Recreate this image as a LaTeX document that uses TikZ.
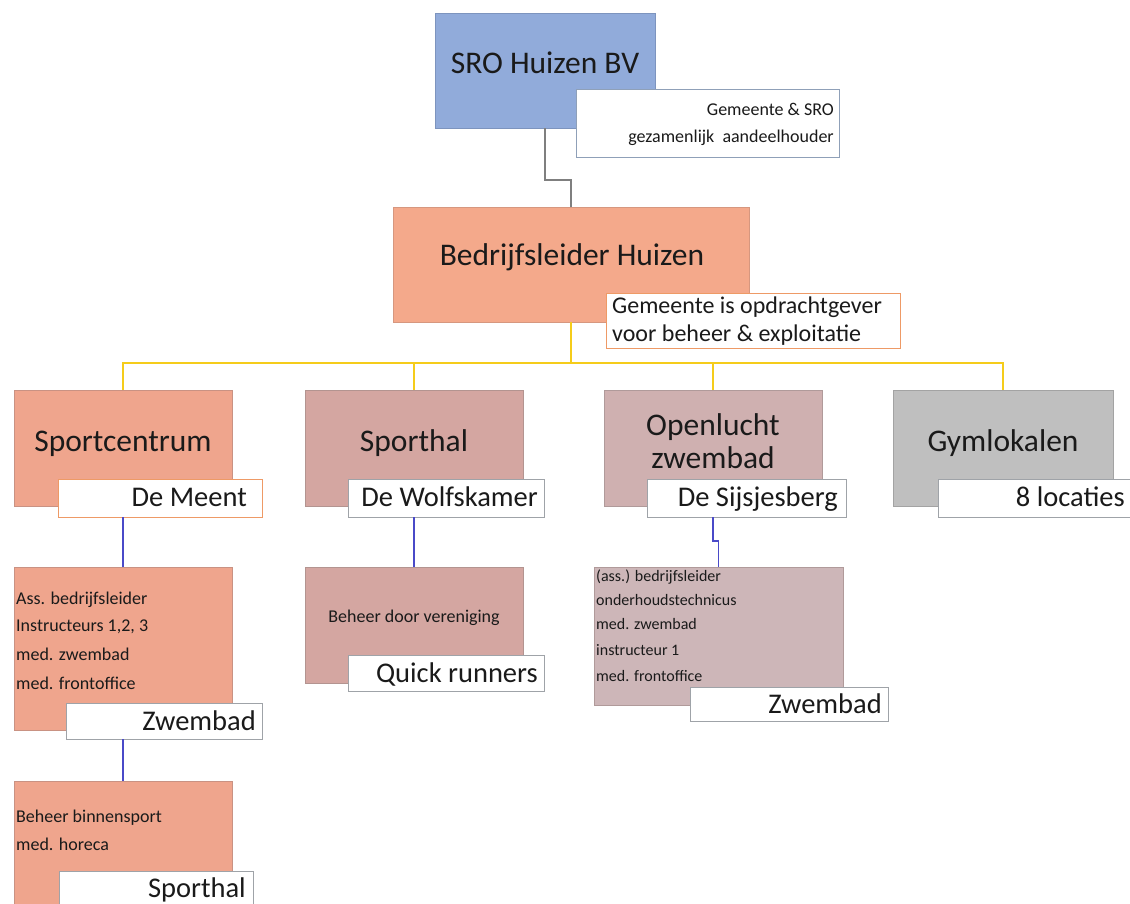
\documentclass[tikz,border=0pt]{standalone}
\usepackage{fontspec}
\setmainfont{Carlito}
\definecolor{sroblue}{HTML}{91ABDA}
\definecolor{sroedge}{HTML}{7D94BE}
\definecolor{blfill}{HTML}{F4A98B}
\definecolor{bledge}{HTML}{D6977F}
\definecolor{scfill}{HTML}{EFA58D}
\definecolor{scedge}{HTML}{C99283}
\definecolor{shfill}{HTML}{D4A6A1}
\definecolor{shedge}{HTML}{B39490}
\definecolor{owfill}{HTML}{CFB0B0}
\definecolor{owedge}{HTML}{B09A9A}
\definecolor{ow2fill}{HTML}{CDB6B8}
\definecolor{gyfill}{HTML}{BFBFBF}
\definecolor{gyedge}{HTML}{A3A3A3}
\definecolor{lblgray}{HTML}{9FA3A8}
\definecolor{lblorange}{HTML}{EE9A66}
\definecolor{lblblue}{HTML}{8FA0B8}
\definecolor{conngray}{HTML}{7F7F7F}
\definecolor{connyellow}{HTML}{F5CC1A}
\definecolor{connblue}{HTML}{4A4AC8}
\definecolor{txtcol}{HTML}{1A1A1A}
\begin{document}
\begin{tikzpicture}[x=1pt,y=-1pt,
  box/.style={anchor=north west, inner sep=0pt, outer sep=0pt, line width=0.8pt},
  lbl/.style={anchor=north west, inner sep=0pt, outer sep=0pt, fill=white, draw=lblgray, line width=0.8pt},
  ttl/.style={anchor=base, inner sep=0pt, text=txtcol, font=\fontsize{31.5}{36}\selectfont},
  lbltxt/.style={anchor=base east, inner sep=0pt, text=txtcol, font=\fontsize{28.5}{34}\selectfont},
  small/.style={anchor=base west, inner sep=0pt, text=txtcol, font=\fontsize{18}{22}\selectfont},
  tiny/.style={anchor=base west, inner sep=0pt, text=txtcol, font=\fontsize{16}{20}\selectfont},
  gconn/.style={draw=conngray, line width=1.5pt},
  yconn/.style={draw=connyellow, line width=2pt},
  bconn/.style={draw=connblue, line width=1.6pt}]
\useasboundingbox (0,0) rectangle (1130,903);
\fill[white] (0,0) rectangle (1130,903);

% ---------- boxes ----------
\node[box, fill=sroblue, draw=sroedge, minimum width=220pt, minimum height=115pt] (sro) at (435,13) {};
\node[box, fill=blfill, draw=bledge, minimum width=356pt, minimum height=115pt] (bl) at (393,207) {};
\node[box, fill=scfill, draw=scedge, minimum width=218pt, minimum height=116pt] (sc) at (14,390) {};
\node[box, fill=shfill, draw=shedge, minimum width=218pt, minimum height=116pt] (sh) at (305,390) {};
\node[box, fill=owfill, draw=owedge, minimum width=218pt, minimum height=116pt] (ow) at (604,390) {};
\node[box, fill=gyfill, draw=gyedge, minimum width=220pt, minimum height=116pt] (gy) at (893,390) {};
\node[box, fill=scfill, draw=scedge, minimum width=218pt, minimum height=163pt] (sc2) at (14,567) {};
\node[box, fill=shfill, draw=shedge, minimum width=218pt, minimum height=116pt] (sh2) at (305,567) {};
\node[box, fill=ow2fill, draw=owedge, minimum width=249pt, minimum height=138pt] (ow2) at (594,567) {};
\node[box, fill=scfill, draw=scedge, minimum width=218pt, minimum height=130pt] (sc3) at (14,781) {};

% ---------- connectors ----------
\coordinate (bus) at (571,363);
\draw[gconn] (sro.south) -- ++(0,52) -| (bl.north);
\draw[yconn] (bl.south) -- (bus);
\draw[yconn] (sc.north) |- (bus) -| (gy.north);
\draw[yconn] (sh.north) -- (sh.north |- bus);
\draw[yconn] (ow.north) -- (ow.north |- bus);

% ---------- titles ----------
\node[ttl] (srot) at (545,73) {SRO Huizen BV};
\node[ttl] (blt) at (572,265) {Bedrijfsleider Huizen};
\node[ttl] (sct) at (123,451) {Sportcentrum};
\node[ttl] (sht) at (414,451) {Sporthal};
\node[ttl] (owt1) at (713,435) {Openlucht};
\node[ttl] (owt2) at (713,468) {zwembad};
\node[ttl] (gyt) at (1003,451) {Gymlokalen};

% ---------- labels ----------
\node[lbl, draw=lblblue, minimum width=263pt, minimum height=68pt] (srol) at (576,89) {};
\node[anchor=base east, inner sep=0pt, text=txtcol, font=\fontsize{18}{22}\selectfont] (srol1) at (834,115) {Gemeente \& SRO};
\node[anchor=base east, inner sep=0pt, text=txtcol, font=\fontsize{18}{22}\selectfont] (srol2) at (834,142) {gezamenlijk\ \ aandeelhouder};

\node[lbl, draw=lblorange, minimum width=294pt, minimum height=55pt] (bll) at (606,293) {};
\node[anchor=base west, inner sep=0pt, text=txtcol, font=\fontsize{24}{28}\selectfont] (bll1) at (612,313) {Gemeente is opdrachtgever};
\node[anchor=base west, inner sep=0pt, text=txtcol, font=\fontsize{24}{28}\selectfont] (bll2) at (612,341) {voor beheer \& exploitatie};

\node[lbl, draw=lblorange, minimum width=204pt, minimum height=38pt] (scl) at (58,479) {};
\node[lbltxt] (sclt) at (247,506) {De Meent};
\node[lbl, minimum width=196pt, minimum height=38pt] (shl) at (348,479) {};
\node[lbltxt] (shlt) at (538,506) {De Wolfskamer};
\node[lbl, minimum width=199pt, minimum height=38pt] (owl) at (647,479) {};
\node[lbltxt] (owlt) at (838,506) {De Sijsjesberg};
\node[lbl, minimum width=200pt, minimum height=38pt] (gyl) at (938,479) {};
\node[lbltxt] (gylt) at (1125,506) {8 locaties};

% ---------- second-level connectors ----------
\draw[bconn] (sc.south |- scl.south) -- (sc2.north);
\draw[bconn] (sh.south |- shl.south) -- (sh2.north);
\draw[bconn] (ow.south |- owl.south) -- ++(0,24) -| (ow2.north);

% ---------- second-level texts ----------
\node[small] (sc2a) at (16,604) {Ass. bedrijfsleider};
\node[small] (sc2b) at (16,631) {Instructeurs 1,2, 3};
\node[small] (sc2c) at (16,660) {med. zwembad};
\node[small] (sc2d) at (16,689) {med. frontoffice};
\node[lbl, minimum width=196pt, minimum height=36pt] (sc2l) at (66,703) {};
\node[lbltxt] (sc2lt) at (256,730) {Zwembad};

\node[anchor=base, inner sep=0pt, text=txtcol, font=\fontsize{18}{22}\selectfont] (sh2a) at (414,622) {Beheer door vereniging};
\node[lbl, minimum width=196pt, minimum height=36pt] (sh2l) at (348,655) {};
\node[lbltxt] (sh2lt) at (538,682) {Quick runners};

\node[tiny] (ow2a) at (596,581) {(ass.) bedrijfsleider};
\node[tiny] (ow2b) at (596,605) {onderhoudstechnicus};
\node[tiny] (ow2c) at (596,629) {med. zwembad};
\node[tiny] (ow2d) at (596,655) {instructeur 1};
\node[tiny] (ow2e) at (596,681) {med. frontoffice};
\node[lbl, minimum width=198pt, minimum height=34pt] (ow2l) at (690,687) {};
\node[lbltxt] (ow2lt) at (882,713) {Zwembad};

% ---------- third level ----------
\draw[bconn] (sc2.south |- sc2l.south) -- (sc3.north);
\node[small] (sc3a) at (16,822) {Beheer binnensport};
\node[small] (sc3b) at (16,850) {med. horeca};
\node[lbl, minimum width=194pt, minimum height=40pt] (sc3l) at (59,871) {};
\node[lbltxt] (sc3lt) at (246,897) {Sporthal};
\end{tikzpicture}
\end{document}
